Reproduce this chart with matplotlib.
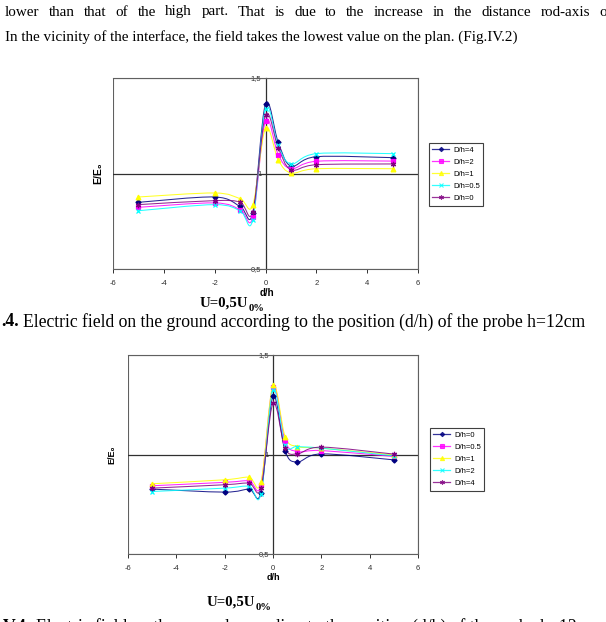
import numpy as np
import matplotlib
matplotlib.use("Agg")
import matplotlib.pyplot as plt
from matplotlib.path import Path
from matplotlib.patches import PathPatch, Rectangle
from matplotlib.lines import Line2D
from matplotlib.text import Annotation

# ------------------------------------------------------------
# Data (E/E0 versus d/h)
# ------------------------------------------------------------
d_h = [-5, -2, -1, -0.5, 0, 0.5, 1, 2, 5]

# upper chart: U=0,5U0%, legend D/h=4 ... D/h=0
top_labels = ["D/h=4", "D/h=2", "D/h=1", "D/h=0.5", "D/h=0"]
top_dh4 = [0.849, 0.877, 0.828, 0.793, 1.364, 1.163, 1.039, 1.088, 1.083]
top_dh2 = [0.823, 0.846, 0.811, 0.770, 1.277, 1.099, 1.025, 1.064, 1.065]
top_dh1 = [0.877, 0.898, 0.868, 0.835, 1.238, 1.072, 1.003, 1.025, 1.025]
top_dh05 = [0.805, 0.837, 0.805, 0.758, 1.340, 1.147, 1.050, 1.104, 1.104]
top_dh0 = [0.837, 0.858, 0.850, 0.800, 1.305, 1.135, 1.020, 1.046, 1.050]

# lower chart: U=0,5U0%, legend D/h=0 ... D/h=4
bot_labels = ["D/h=0", "D/h=0.5", "D/h=1", "D/h=2", "D/h=4"]
bot_dh0 = [0.826, 0.811, 0.826, 0.809, 1.294, 1.018, 0.962, 1.003, 0.973]
bot_dh05 = [0.843, 0.860, 0.868, 0.848, 1.341, 1.069, 1.015, 1.020, 0.990]
bot_dh1 = [0.853, 0.873, 0.886, 0.860, 1.349, 1.090, 1.040, 1.032, 0.998]
bot_dh2 = [0.814, 0.831, 0.840, 0.801, 1.324, 1.048, 1.040, 1.032, 0.993]
bot_dh4 = [0.831, 0.848, 0.856, 0.831, 1.258, 1.032, 1.003, 1.037, 1.002]

x_ticks = [-6, -4, -2, 0, 2, 4, 6]
y_ticks = [0.5, 1.0, 1.5]
y_tick_labels = ["0,5", "1", "1,5"]

# page text
line1 = ("lower than that of the high part. That is due to the increase "
         "in the distance rod-axis of")
line2 = ("In the vicinity of the interface, the field takes the lowest "
         "value on the plan. (Fig.IV.2)")
caption = ("Electric field on the ground according to the position "
           "(d/h) of the probe h=12cm")

# Excel default series styles
colors = ["#000080", "#FF00FF", "#FFFF00", "#00FFFF", "#800080"]
markers = ["D", "s", "^", "x", (6, 2, 0)]
msizes = [2.6, 3.2, 3.4, 3.4, 3.8]

SERIF = "Liberation Serif"
SANS = ["Liberation Sans", "DejaVu Sans"]


def smooth_path(x, y):
    # Bezier path through the points, like Excel's "smoothed line"
    pts = np.column_stack([x, y]).astype(float)
    n = len(pts)
    verts = [pts[0]]
    codes = [Path.MOVETO]
    for i in range(n - 1):
        p0 = pts[max(i - 1, 0)]
        p1 = pts[i]
        p2 = pts[i + 1]
        p3 = pts[min(i + 2, n - 1)]
        verts += [p1 + (p2 - p0) / 6, p2 - (p3 - p1) / 6, p2]
        codes += [Path.CURVE4] * 3
    return Path(verts, codes)


def draw_panel(fig, rect, series, labels, legend_xy):
    ax = fig.add_axes(rect)
    for k, ys in enumerate(series):
        ax.add_patch(PathPatch(smooth_path(d_h, ys), fill=False,
                               edgecolor=colors[k], lw=0.75, alpha=0.85, zorder=3))
        ax.plot(d_h, ys, ls="none", marker=markers[k], ms=msizes[k],
                color=colors[k], mec=colors[k], mew=0.9, zorder=4)
    ax.set_xlim(-6, 6)
    ax.set_ylim(0.5, 1.5)

    # value axis crosses at d/h = 0, horizontal line at E/E0 = 1
    for s in ["top", "right", "bottom"]:
        ax.spines[s].set_color("#606060")
        ax.spines[s].set_linewidth(0.8)
    ax.spines["left"].set_position(("data", 0))
    ax.spines["left"].set_color("#303030")
    ax.spines["left"].set_linewidth(0.9)
    ax.add_patch(Rectangle((0, 0), 1, 1, transform=ax.transAxes, fill=False,
                           edgecolor="#606060", lw=0.8, zorder=1))
    ax.axhline(1.0, color="#303030", lw=0.9, zorder=2)

    ax.set_xticks(x_ticks)
    ax.set_xticklabels([str(v) for v in x_ticks])
    ax.set_yticks(y_ticks)
    ax.set_yticklabels(y_tick_labels)
    ax.tick_params(axis="x", direction="out", length=3, width=0.7,
                   labelsize=5.5, pad=5, colors="#303030")
    ax.tick_params(axis="y", direction="inout", length=4, width=0.7,
                   labelsize=5.5, pad=1, colors="#303030")
    for t in ax.get_xticklabels() + ax.get_yticklabels():
        t.set_family(SANS)

    handles = [Line2D([], [], color=colors[k], marker=markers[k], ms=msizes[k] - 0.4,
                      lw=0.9, alpha=0.8, mew=0.8)
               for k in range(len(labels))]
    leg = ax.legend(handles, labels, loc="upper left", bbox_to_anchor=legend_xy,
                    bbox_transform=fig.transFigure, fontsize=5.5, fancybox=False,
                    edgecolor="#404040", framealpha=1, handlelength=2.2,
                    borderpad=0.45, labelspacing=0.62, handletextpad=0.5,
                    borderaxespad=0)
    leg.get_frame().set_linewidth(0.8)
    for t in leg.get_texts():
        t.set_family(SANS)
    return ax


fig = plt.figure(figsize=(6.06, 6.22), dpi=100)
W, H = 606.0, 622.0
renderer = fig.canvas.get_renderer()


def fx(px):
    return px / W


def fy(py):
    return 1 - py / H


def justified_line(text, y_px, x0, x1, **kw):
    # spread the words between x0 and x1 like justified text
    words = text.split()
    arts = [fig.text(0, fy(y_px), w, va="center", **kw) for w in words]
    widths = [a.get_window_extent(renderer).width for a in arts]
    gap = (x1 - x0 - sum(widths)) / (len(words) - 1)
    x = x0
    for a, w in zip(arts, widths):
        a.set_x(fx(x))
        x += w + gap


def voltage_caption(x_px, y_px):
    t = fig.text(fx(x_px), fy(y_px), "U=0,5U", family=SERIF, fontsize=10.6,
                 weight="bold", ha="left", va="baseline")
    fig.add_artist(Annotation(
        "0%", xy=(1, 0), xycoords=t, xytext=(0.2, -1.0), textcoords="offset points",
        family=SERIF, fontsize=7.6, weight="bold", va="baseline", ha="left"))


def figure_caption(prefix, x_px, y_px):
    t = fig.text(fx(x_px), fy(y_px), prefix, family=SERIF, fontsize=12.7,
                 weight="bold", va="center")
    fig.add_artist(Annotation(
        caption, xy=(1, 0.5), xycoords=t, xytext=(3.2, 0), textcoords="offset points",
        family=SERIF, fontsize=12.7, va="center", ha="left"))


# running text of the page
justified_line(line1, 12, 5, 612, family=SERIF, fontsize=10.9)
fig.text(fx(5), fy(37), line2, family=SERIF, fontsize=10.9, va="center")

# upper chart
ax1 = draw_panel(fig, [fx(113), fy(269), fx(418) - fx(113), fy(78) - fy(269)],
                 [top_dh4, top_dh2, top_dh1, top_dh05, top_dh0], top_labels,
                 (fx(429), fy(143)))
fig.text(fx(98), fy(173), "E/E\u2080", family=SANS, fontsize=7.5, weight="bold",
         rotation=90, ha="center", va="center")
fig.text(fx(267), fy(293), "d/h", family=SANS, fontsize=7, weight="bold",
         ha="center", va="center")
voltage_caption(200, 307)
figure_caption(".4.", 1, 322)

# lower chart
ax2 = draw_panel(fig, [fx(128), fy(554), fx(418) - fx(128), fy(355) - fy(554)],
                 [bot_dh0, bot_dh05, bot_dh1, bot_dh2, bot_dh4], bot_labels,
                 (fx(430), fy(428)))
fig.text(fx(112), fy(455), "E/E\u2080", family=SANS, fontsize=6.5, weight="bold",
         rotation=90, ha="center", va="center")
fig.text(fx(273), fy(577), "d/h", family=SANS, fontsize=6.5, weight="bold",
         ha="center", va="center")
voltage_caption(207, 606)
figure_caption("V.4.", 3, 627)

fig.savefig("out.png", dpi=100)
